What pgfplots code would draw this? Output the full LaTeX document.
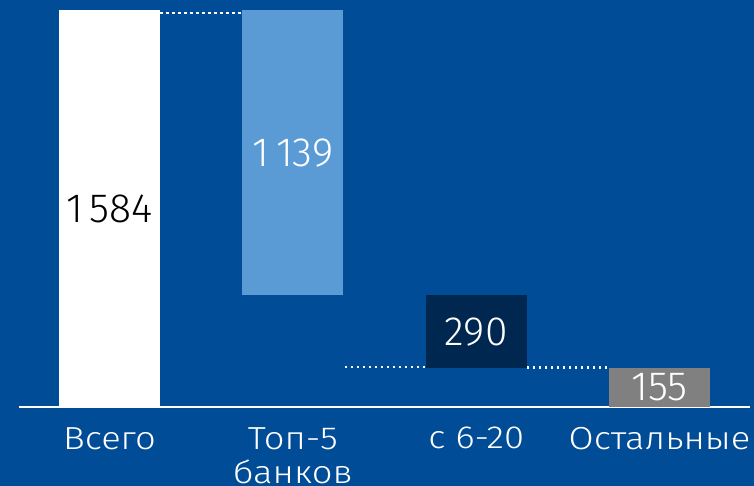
\documentclass[border=0pt]{standalone}
\usepackage{fontspec}
\setmainfont{Fira Sans Light}
\newfontfamily\labelfont{Fira Sans Light}[FakeStretch=1.14]
\usepackage{pgfplots}
\pgfplotsset{compat=1.18}
\definecolor{bg}{HTML}{004C97}
\definecolor{lightbar}{HTML}{5B9BD5}
\definecolor{darkbar}{HTML}{00274F}
\definecolor{graybar}{HTML}{808080}
\begin{document}
\begin{tikzpicture}
\useasboundingbox (0,0) rectangle (754bp,486bp);
\fill[bg] (0,0) rectangle (754bp,486bp);
\pgfplotsset{common/.style={
  scale only axis, width=731.5bp, height=397bp,
  xmin=-0.495, xmax=3.495, ymin=0, ymax=1584,
  at={(18.75bp,79bp)}, anchor=south west, clip=false}}
\begin{axis}[common, ybar stacked, bar width=101bp,
  axis x line=bottom, axis y line=none,
  x axis line style={white, line width=1.5bp, -},
  xtick={0,1,2,3},
  xticklabels={Всего, Топ-5\\банков, с 6-20, Остальные},
  xticklabel style={white, align=center, inner sep=0pt, yshift=-20bp,
    font=\labelfont\fontsize{32}{35}\selectfont},
  major tick length=0pt, ytick=\empty]
\addplot[draw=none, fill=none] coordinates {(0,0)(1,445)(2,155)(3,0)};
\addplot[draw=none, fill=white] coordinates {(0,1584)(1,0)(2,0)(3,0)};
\addplot[draw=none, fill=lightbar] coordinates {(0,0)(1,1139)(2,0)(3,0)};
\addplot[draw=none, fill=darkbar] coordinates {(0,0)(1,0)(2,290)(3,0)};
\addplot[draw=none, fill=graybar] coordinates {(0,0)(1,0)(2,0)(3,155)};
\end{axis}
\begin{axis}[common, hide axis]
\addplot[white, line width=2.5bp, dash pattern=on 2.5bp off 3.5bp] coordinates {(0.2755,1572)(0.728,1572)};
\addplot[white, line width=2.5bp, dash pattern=on 2.5bp off 3.5bp] coordinates {(1.283,160)(1.726,160)};
\addplot[white, line width=2.5bp, dash pattern=on 2.5bp off 3.5bp] coordinates {(2.277,158)(2.725,158)};
\addplot[draw=none, nodes near coords, point meta=explicit symbolic,
  every node near coord/.style={anchor=center, text=black, inner sep=0pt, font=\fontsize{41}{41}\selectfont}]
  coordinates {(0,792)[1\hspace{0.17em}584]};
\addplot[draw=none, nodes near coords, point meta=explicit symbolic,
  every node near coord/.style={anchor=center, text=white, inner sep=0pt, font=\fontsize{41}{41}\selectfont}]
  coordinates {(1,1014.5)[1\hspace{0.17em}139] (2,300)[290] (3,77.5)[155]};
\end{axis}
\end{tikzpicture}
\end{document}
